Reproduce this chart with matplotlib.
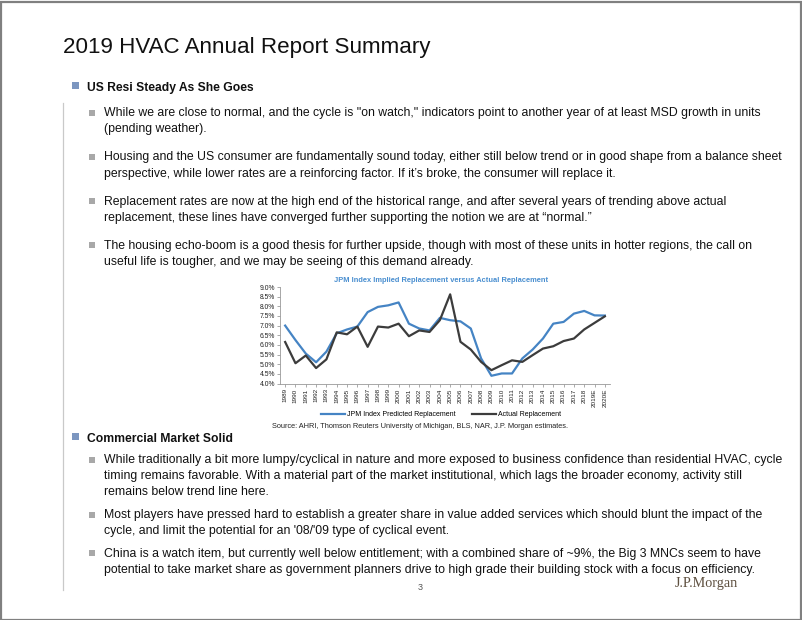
import matplotlib
matplotlib.use("Agg")
import matplotlib.pyplot as plt
from matplotlib.patches import Rectangle
from matplotlib.lines import Line2D
import numpy as np

W, H = 802, 620
plt.rcParams['font.family'] = ['Liberation Sans', 'DejaVu Sans']

years = ['1989', '1990', '1991', '1992', '1993', '1994', '1995', '1996', '1997', '1998',
         '1999', '2000', '2001', '2002', '2003', '2004', '2005', '2006', '2007', '2008',
         '2009', '2010', '2011', '2012', '2013', '2014', '2015', '2016', '2017', '2018',
         '2019E', '2020E']
jpm_predicted = [7.0, 6.25, 5.55, 5.1, 5.65, 6.6, 6.8, 6.95, 7.7, 7.97, 8.05, 8.2, 7.1, 6.85,
                 6.75, 7.4, 7.28, 7.22, 6.85, 5.3, 4.4, 4.52, 4.52, 5.3, 5.76, 6.33, 7.1,
                 7.19, 7.62, 7.76, 7.53, 7.52]
actual = [6.15, 5.05, 5.45, 4.8, 5.25, 6.65, 6.55, 6.95, 5.9, 6.95, 6.9, 7.1, 6.45, 6.75,
          6.67, 7.28, 8.62, 6.16, 5.76, 5.12, 4.69, 4.95, 5.2, 5.12, 5.47, 5.81, 5.93,
          6.2, 6.33, 6.8, 7.14, 7.48]
yticks = [4.0, 4.5, 5.0, 5.5, 6.0, 6.5, 7.0, 7.5, 8.0, 8.5, 9.0]

title = "2019 HVAC Annual Report Summary"
sec1 = "US Resi Steady As She Goes"
sec2 = "Commercial Market Solid"
bullets1 = [
    ["While we are close to normal, and the cycle is \"on watch,\" indicators point to another year of at least MSD growth in units",
     "(pending weather)."],
    ["Housing and the US consumer are fundamentally sound today, either still below trend or in good shape from a balance sheet",
     "perspective, while lower rates are a reinforcing factor. If it\u2019s broke, the consumer will replace it."],
    ["Replacement rates are now at the high end of the historical range, and after several years of trending above actual",
     "replacement, these lines have converged further supporting the notion we are at \u201cnormal.\u201d"],
    ["The housing echo-boom is a good thesis for further upside, though with most of these units in hotter regions, the call on",
     "useful life is tougher, and we may be seeing of this demand already."],
]
bullets2 = [
    ["While traditionally a bit more lumpy/cyclical in nature and more exposed to business confidence than residential HVAC, cycle",
     "timing remains favorable. With a material part of the market institutional, which lags the broader economy, activity still",
     "remains below trend line here."],
    ["Most players have pressed hard to establish a greater share in value added services which should blunt the impact of the",
     "cycle, and limit the potential for an '08/'09 type of cyclical event."],
    ["China is a watch item, but currently well below entitlement; with a combined share of ~9%, the Big 3 MNCs seem to have",
     "potential to take market share as government planners drive to high grade their building stock with a focus on efficiency."],
]
bullet1_baselines = [116, 160.5, 204.5, 248.5]
bullet2_baselines = [463, 518, 556.5]
line_gap = 16

fig = plt.figure(figsize=(W / 100, H / 100), dpi=100)
fig.patch.set_facecolor('white')

def fx(x):
    return x / W

def fy(y):
    return 1 - y / H

def rect(x, y, w, h, color, **kw):
    fig.patches.append(Rectangle((fx(x), fy(y + h)), w / W, h / H, transform=fig.transFigure,
                                 facecolor=color, edgecolor='none', **kw))

TXT = '#111111'
BODY_FS = 8.8

# frame
fig.patches.append(Rectangle((0.5 / W, 0.5 / H), (W - 1.5) / W, (H - 2) / H, transform=fig.transFigure,
                             facecolor='none', edgecolor='#808080', linewidth=1.6))
# vertical rule
fig.add_artist(Line2D([fx(63.5), fx(63.5)], [fy(103), fy(590)], transform=fig.transFigure,
                      color='#c9c9c9', linewidth=0.9))

fig.text(fx(63), fy(53), title, fontsize=16.1, color=TXT, va='baseline', ha='left')

# section 1
rect(72, 82, 6.5, 6.5, '#7c96c0')
fig.text(fx(87), fy(90.5), sec1, fontsize=8.75, fontweight='bold', color=TXT, va='baseline')
for lines, b in zip(bullets1, bullet1_baselines):
    rect(88.5, b - 6.3, 6.2, 6.2, '#a8a8a8')
    for k, ln in enumerate(lines):
        fig.text(fx(104.5), fy(b + k * line_gap), ln, fontsize=BODY_FS, color=TXT, va='baseline')

# section 2
rect(72, 433, 6.5, 6.5, '#7c96c0')
fig.text(fx(87), fy(441.5), sec2, fontsize=8.75, fontweight='bold', color=TXT, va='baseline')
for lines, b in zip(bullets2, bullet2_baselines):
    rect(88.5, b - 6.3, 6.2, 6.2, '#a8a8a8')
    for k, ln in enumerate(lines):
        fig.text(fx(104.5), fy(b + k * line_gap), ln, fontsize=BODY_FS, color=TXT, va='baseline')

# chart
ax = fig.add_axes([fx(280), fy(383.5), (610 - 280) / W, (383.5 - 287) / H])
x = np.arange(len(years))
blue = '#4584c4'
dark = '#3c3c3c'
ax.plot(x, jpm_predicted, color=blue, linewidth=1.6, label='JPM Index Predicted Replacement')
ax.plot(x, actual, color=dark, linewidth=1.6, label='Actual Replacement')
ax.set_xlim(-0.5, len(years) - 0.5)
ax.set_ylim(4.0, 9.0)
ax.set_yticks(yticks)
ax.set_yticklabels([f"{v:.1f}%" for v in yticks], fontsize=4.9, color='#222222')
ax.set_xticks(x)
ax.set_xticklabels(years, rotation=90, fontsize=4.6, color='#222222')
ax.tick_params(axis='both', length=2, width=0.5, color='#888888', pad=1.5)
for s in ['top', 'right']:
    ax.spines[s].set_visible(False)
for s in ['left', 'bottom']:
    ax.spines[s].set_color('#999999')
    ax.spines[s].set_linewidth(0.6)
ax.patch.set_alpha(0)
ax.legend(loc='center', bbox_to_anchor=(fx(441), fy(415)), bbox_transform=fig.transFigure,
          ncol=2, frameon=False, fontsize=5.0, handlelength=3.4, handletextpad=0.3,
          columnspacing=2.4, borderpad=0)
fig.text(fx(441), fy(280), "JPM Index Implied Replacement versus Actual Replacement",
         fontsize=5.4, fontweight='bold', color='#4a8fd0', ha='center', va='center')
fig.text(fx(420), fy(427), "Source: AHRI, Thomson Reuters University of Michigan, BLS, NAR, J.P. Morgan estimates.",
         fontsize=5.3, color='#222222', ha='center', va='center')

fig.text(fx(420), fy(588), "3", fontsize=6.5, color='#555555', ha='center', va='center')
fig.text(fx(706), fy(586.5), "J.P.Morgan", fontsize=10.2, color='#5e5040', ha='center', va='baseline',
         family=['Liberation Serif', 'DejaVu Serif'])

fig.savefig('out.png', dpi=100)
